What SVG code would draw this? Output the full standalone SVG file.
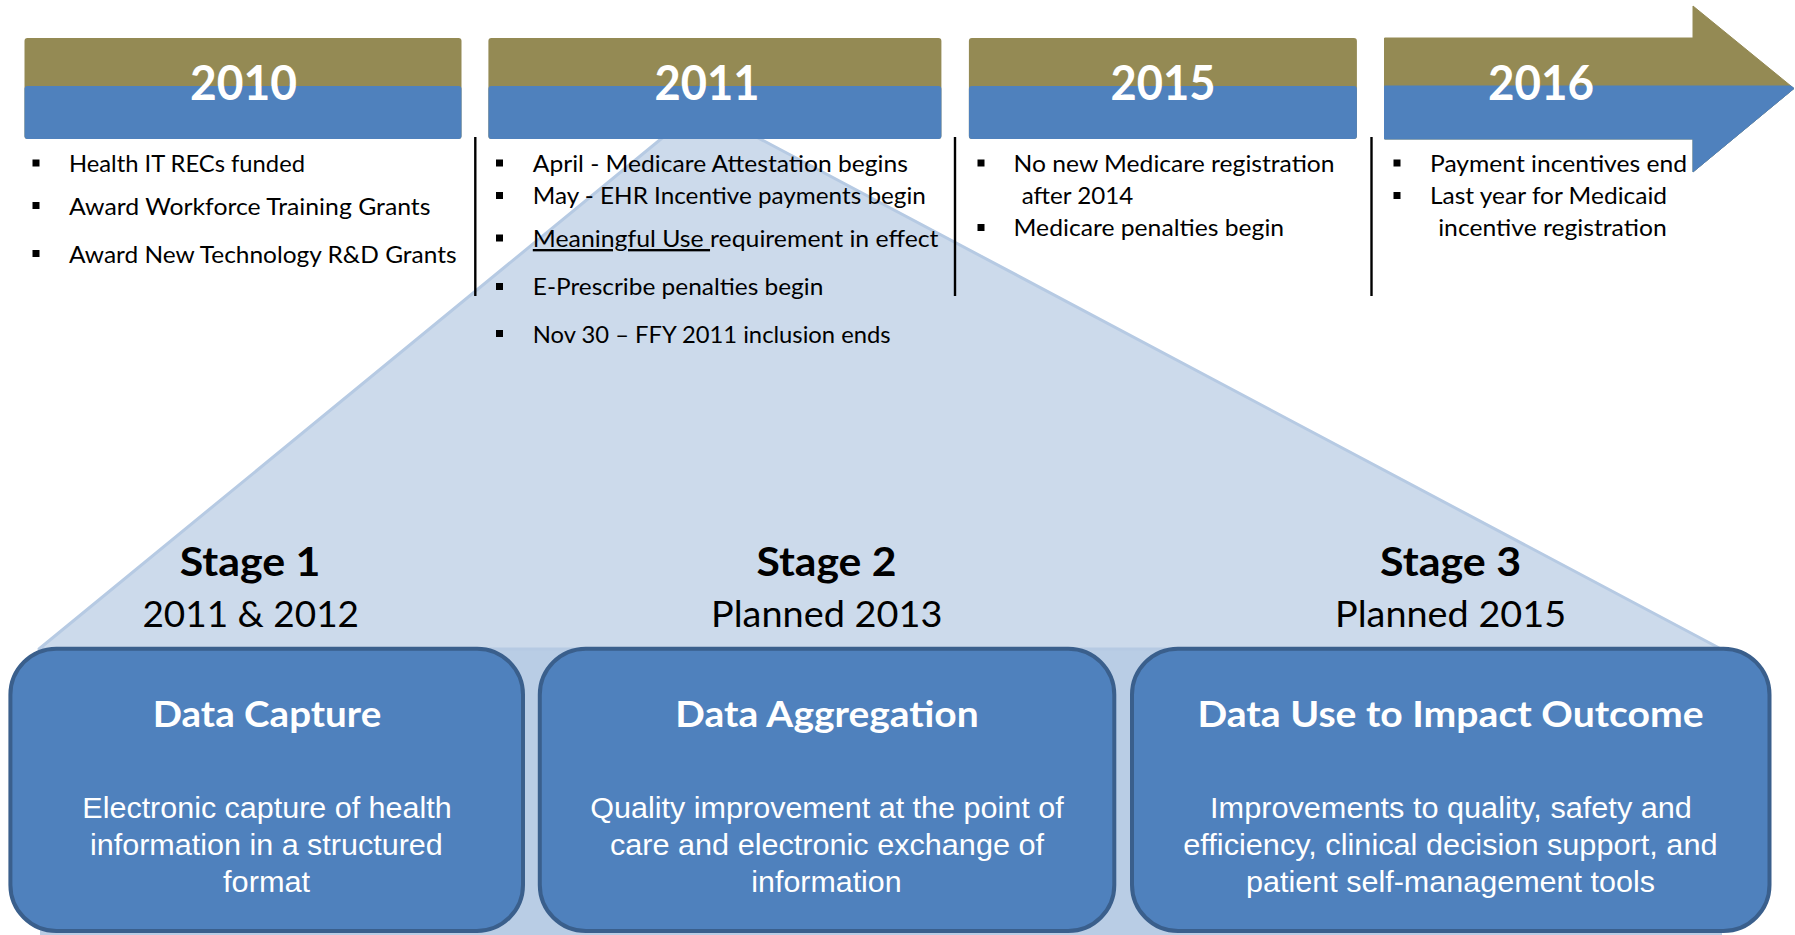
<svg xmlns="http://www.w3.org/2000/svg" width="1795" height="935" viewBox="0 0 1795 935">
<style>
.yr{font-family:Lato,"Liberation Sans",sans-serif;font-weight:700;font-size:48px;fill:#fff;text-anchor:middle}
.bl{font-family:Lato,"Liberation Sans",sans-serif;font-size:23.5px;fill:#000}
.stg{font-family:Lato,"Liberation Sans",sans-serif;font-weight:700;font-size:41px;fill:#000;text-anchor:middle}
.sub{font-family:Lato,"Liberation Sans",sans-serif;font-size:36px;fill:#000;text-anchor:middle}
.ttl{font-family:Lato,"Liberation Sans",sans-serif;font-weight:700;font-size:37px;fill:#fff;text-anchor:middle}
.body{font-family:"Liberation Sans",Arial,sans-serif;font-size:30px;fill:#fff;text-anchor:middle}
.olive{fill:#948A54}
.blue{fill:#4F81BD}
.box{fill:#4F81BD;stroke:#3A5F8C;stroke-width:4}
.div{stroke:#000;stroke-width:2.4}
.u{text-decoration:underline}
</style>
<defs>
<rect id="bul" width="7" height="7" fill="#000"/>
</defs>
<rect width="1795" height="935" fill="#fff"/>

<g id="pyramid">
<rect x="40" y="648" width="1682" height="287" fill="#B9CDE5"/>
<polygon points="700,107 1721,649 39,649" fill="#CCDAEB" stroke="#B6CAE3" stroke-width="3" stroke-linejoin="round"/>
</g>

<g id="year-2010">
<rect x="24.5" y="38" width="437" height="101" rx="3" class="olive"/>
<rect x="24.5" y="86" width="437" height="53" rx="3" class="blue"/>
<text x="243.5" y="100" class="yr" textLength="107" lengthAdjust="spacingAndGlyphs">2010</text>
<use href="#bul" x="32.5" y="159.5"/>
<use href="#bul" x="32.5" y="202"/>
<use href="#bul" x="32.5" y="250"/>
<text x="69" y="172" class="bl" textLength="236" lengthAdjust="spacingAndGlyphs">Health IT RECs funded</text>
<text x="69" y="215" class="bl" textLength="361.5" lengthAdjust="spacingAndGlyphs">Award Workforce Training Grants</text>
<text x="69" y="263" class="bl" textLength="387.5" lengthAdjust="spacingAndGlyphs">Award New Technology R&amp;D Grants</text>
</g>

<g id="year-2011">
<rect x="488.4" y="38" width="453" height="101" rx="3" class="olive"/>
<rect x="488.4" y="86" width="453" height="53" rx="3" class="blue"/>
<text x="707" y="100" class="yr" textLength="105" lengthAdjust="spacingAndGlyphs">2011</text>
<use href="#bul" x="496" y="159.5"/>
<use href="#bul" x="496" y="192"/>
<use href="#bul" x="496" y="234.5"/>
<use href="#bul" x="496" y="283"/>
<use href="#bul" x="496" y="330"/>
<text x="532.8" y="172" class="bl" textLength="375" lengthAdjust="spacingAndGlyphs">April - Medicare Attestation begins</text>
<text x="532.8" y="204" class="bl" textLength="393" lengthAdjust="spacingAndGlyphs">May - EHR Incentive payments begin</text>
<text x="532.8" y="247" class="bl" textLength="405.7" lengthAdjust="spacingAndGlyphs"><tspan class="u">Meaningful Use </tspan>requirement in effect</text>
<text x="532.8" y="295" class="bl" textLength="290.5" lengthAdjust="spacingAndGlyphs">E-Prescribe penalties begin</text>
<text x="532.8" y="342.5" class="bl" textLength="357.8" lengthAdjust="spacingAndGlyphs">Nov 30 – FFY 2011 inclusion ends</text>
</g>

<g id="year-2015">
<rect x="968.9" y="38" width="388" height="101" rx="3" class="olive"/>
<rect x="968.9" y="86" width="388" height="53" rx="3" class="blue"/>
<text x="1163" y="100" class="yr" textLength="105" lengthAdjust="spacingAndGlyphs">2015</text>
<use href="#bul" x="977.5" y="159.5"/>
<use href="#bul" x="977.5" y="224"/>
<text x="1013.6" y="172" class="bl" textLength="321" lengthAdjust="spacingAndGlyphs">No new Medicare registration</text>
<text x="1021.7" y="204" class="bl" textLength="111.5" lengthAdjust="spacingAndGlyphs">after 2014</text>
<text x="1013.6" y="235.5" class="bl" textLength="270.5" lengthAdjust="spacingAndGlyphs">Medicare penalties begin</text>
</g>

<g id="year-2016">
<polygon points="1384.5,38 1693,38 1693,6 1794,88.5 1693,172 1693,139 1384.5,139" class="olive" stroke="#948A54" stroke-width="1" stroke-linejoin="round"/>
<polygon points="1384.5,86 1791,86 1794,88.5 1693,172 1693,139 1384.5,139" class="blue" stroke="#4F81BD" stroke-width="1" stroke-linejoin="round"/>
<text x="1541" y="100" class="yr" textLength="106" lengthAdjust="spacingAndGlyphs">2016</text>
<use href="#bul" x="1393.5" y="159.5"/>
<use href="#bul" x="1393.5" y="192"/>
<text x="1430" y="172" class="bl" textLength="257" lengthAdjust="spacingAndGlyphs">Payment incentives end</text>
<text x="1430" y="204" class="bl" textLength="237" lengthAdjust="spacingAndGlyphs">Last year for Medicaid</text>
<text x="1438.2" y="235.5" class="bl" textLength="228.5" lengthAdjust="spacingAndGlyphs">incentive registration</text>
</g>

<g id="connectors">
<line x1="475.3" y1="137" x2="475.3" y2="296" class="div"/>
<line x1="955" y1="137" x2="955" y2="296" class="div"/>
<line x1="1371.5" y1="137" x2="1371.5" y2="296" class="div"/>
</g>

<g id="stage-1">
<text x="250" y="576" class="stg" textLength="140.7" lengthAdjust="spacingAndGlyphs">Stage 1</text>
<text x="250.7" y="626.5" class="sub" textLength="216.6" lengthAdjust="spacingAndGlyphs">2011 &amp; 2012</text>
<rect x="10.4" y="648.7" width="512.6" height="282.3" rx="46" class="box"/>
<text x="267" y="727" class="ttl" textLength="228.5" lengthAdjust="spacingAndGlyphs">Data Capture</text>
<text x="267" y="818" class="body" textLength="369.3" lengthAdjust="spacingAndGlyphs">Electronic capture of health</text>
<text x="266.4" y="855" class="body" textLength="352.8" lengthAdjust="spacingAndGlyphs">information in a structured</text>
<text x="266.6" y="892" class="body" textLength="87" lengthAdjust="spacingAndGlyphs">format</text>
</g>

<g id="stage-2">
<text x="826.5" y="576" class="stg" textLength="140" lengthAdjust="spacingAndGlyphs">Stage 2</text>
<text x="826.7" y="626.5" class="sub" textLength="231.3" lengthAdjust="spacingAndGlyphs">Planned 2013</text>
<rect x="539.8" y="648.7" width="574.5" height="282.3" rx="46" class="box"/>
<text x="827" y="727" class="ttl" textLength="303.3" lengthAdjust="spacingAndGlyphs">Data Aggregation</text>
<text x="827" y="818" class="body" textLength="473.3" lengthAdjust="spacingAndGlyphs">Quality improvement at the point of</text>
<text x="827" y="855" class="body" textLength="434" lengthAdjust="spacingAndGlyphs">care and electronic exchange of</text>
<text x="826.5" y="892" class="body" textLength="150.3" lengthAdjust="spacingAndGlyphs">information</text>
</g>

<g id="stage-3">
<text x="1450.6" y="576" class="stg" textLength="141" lengthAdjust="spacingAndGlyphs">Stage 3</text>
<text x="1450.6" y="626.5" class="sub" textLength="231" lengthAdjust="spacingAndGlyphs">Planned 2015</text>
<rect x="1132" y="648.7" width="637.5" height="282.3" rx="46" class="box"/>
<text x="1450.6" y="727" class="ttl" textLength="506.2" lengthAdjust="spacingAndGlyphs">Data Use to Impact Outcome</text>
<text x="1451" y="818" class="body" textLength="481.8" lengthAdjust="spacingAndGlyphs">Improvements to quality, safety and</text>
<text x="1450.4" y="855" class="body" textLength="534.2" lengthAdjust="spacingAndGlyphs">efficiency, clinical decision support, and</text>
<text x="1450.5" y="892" class="body" textLength="409" lengthAdjust="spacingAndGlyphs">patient self-management tools</text>
</g>
</svg>
